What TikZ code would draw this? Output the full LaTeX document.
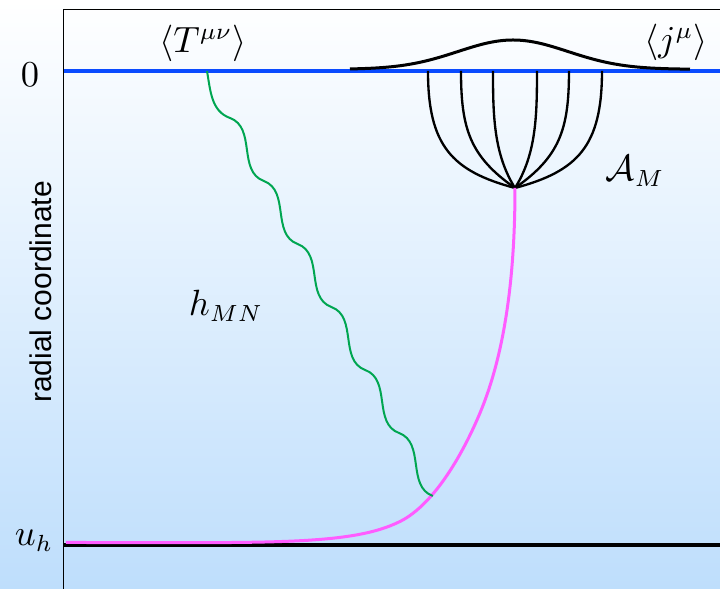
\documentclass[tikz,border=0pt]{standalone}
\usepackage{amsmath}
\usepackage{fontspec}
\usepackage{tikz}
\usetikzlibrary{calc}
\newfontfamily\axisfont{Liberation Sans}
\definecolor{bdyblue}{HTML}{0A4BFF}
\definecolor{trailpink}{HTML}{FF5CFF}
\definecolor{gravgreen}{HTML}{00A651}
\definecolor{bulkblue}{HTML}{BEDEFC}
\tikzset{
  boundary/.style={draw=bdyblue, line width=1.3pt},
  horizon/.style={draw=black, line width=1.2pt},
  pulse/.style={draw=black, line width=0.9pt},
  fanline/.style={draw=black, line width=0.7pt},
  trail/.style={draw=trailpink, line width=0.9pt},
  graviton/.style={draw=gravgreen, line width=0.6pt},
  lbl/.style={font=\fontsize{10.5}{12}\selectfont, inner sep=0pt, anchor=base}
}

\begin{document}
\begin{tikzpicture}[x=0.3pt, y=-0.3pt]
  \useasboundingbox (0,0) rectangle (720,589);
  \shade[top color=white, bottom color=bulkblue] (0,0) rectangle (720,589);
  \draw[line width=0.3pt] (64,589) -- (64,10) -- (720,10);

  \coordinate (b0) at (64,71);
  \coordinate (b1) at (720,71);
  \coordinate (h0) at (64,545);
  \coordinate (h1) at (720,545);
  \coordinate (apex) at (515,188);
  \coordinate (hs) at (207,71);
  \coordinate (ms) at (66,542.5);

  \draw[boundary] (b0) -- (b1);
  \draw[horizon] (h0) -- (h1);
  \draw[pulse, domain=350:690, samples=120] plot (\x, {69.3-29.3*exp(-((\x-513)/55)^2/2)});

  % string bundle hanging from the boundary
  \foreach \sx/\la/\cx/\cy [count=\i] in {428/75/-62.8/-16.8, 461/58/-45/-31.5, 493/45/-21.2/-33.9,
      537/45/21.2/-33.9, 569/58/45/-31.5, 602/75/62.8/-16.8}{
    \coordinate (f\i) at (\sx,71);
    \draw[fanline] (f\i) .. controls +(0,\la) and +(\cx,\cy) .. (apex);
  }

  \draw[trail] (ms) .. controls +(200,0) and +(-49.2,24.6) .. (400,521.5)
    .. controls +(35.8,-17.9) and +(-15.4,36.9) .. (480,413)
    .. controls +(19.3,-46.2) and +(0,110) .. (apex);

  \draw[graviton] (hs) .. controls +(3.5,20) and +(-18.8,-6.8) .. (230,118)
    \foreach \k in {1,...,6}{ .. controls +(26.3,9.6) and +(-26.3,-9.6) .. ({230+33.8*\k},{118+63*\k}) };

  \node[lbl] (zero) at (30,87) {$0$};
  \node[lbl] (uh) at (34,546) {$u_h$};
  \node[lbl] (tmn) at (203,53) {$\langle T^{\mu\nu}\rangle$};
  \node[lbl] (jm) at (676,52) {$\langle j^{\mu}\rangle$};
  \node[lbl] (am) at (635,181) {$\mathcal{A}_M$};
  \node[lbl] (hmn) at (226,316) {$h_{MN}$};
  \node[lbl, font=\axisfont\fontsize{9}{10}\selectfont, rotate=90] (rad) at (52,292) {radial coordinate};
\end{tikzpicture}
\end{document}
